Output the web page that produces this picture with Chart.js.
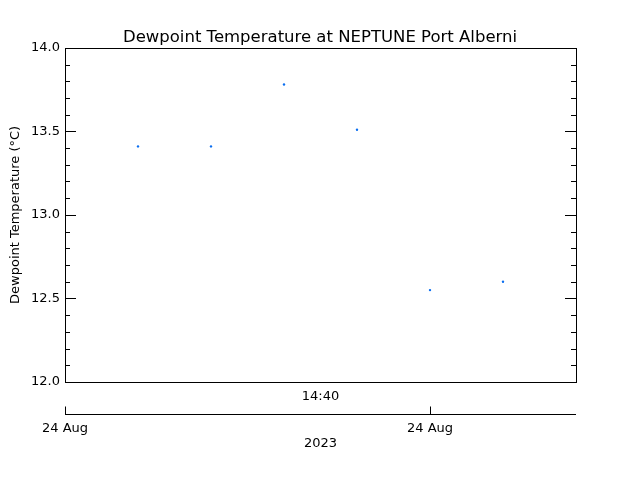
<!DOCTYPE html>
<html lang="en">
<head>
  <meta charset="UTF-8" />
  <title>Dewpoint Temperature at NEPTUNE Port Alberni</title>
  <script src="https://cdn.jsdelivr.net/npm/chart.js"></script>
  <style>
    html, body { margin: 0; padding: 0; background: #fff; }
  </style>
</head>
<body>
  <canvas id="dewChart" width="640" height="480"></canvas>

  <script>
    // sample positions along the time axis (axis runs 0..7)
    const sampleX = [1, 2, 3, 4, 5, 6];
    // dewpoint values (deg C)
    const dewpoint = [13.41, 13.41, 13.78, 13.51, 12.55, 12.60];

    // y axis range and labelled ticks
    const yMin = 12.0;
    const yMax = 14.0;
    const yMajorLabels = ['12.0', '12.5', '13.0', '13.5', '14.0'];

    // time axis
    const timeTickPos = [0, 5];
    const timeTickLabels = ['24 Aug', '24 Aug'];
    const timeMidPos = 3.5;
    const timeMidLabel = '14:40';
    const yearLabel = '2023';

    const FONT = '"DejaVu Sans", sans-serif';

    // frame, inward ticks and the separate time axis below the plot
    const framePlugin = {
      id: 'frame',
      afterDraw(chart) {
        const { ctx, chartArea, scales } = chart;
        const { left, right, top, bottom } = chartArea;
        const x = scales.x, y = scales.y;
        ctx.save();
        ctx.strokeStyle = '#000';
        ctx.lineWidth = 1;
        ctx.strokeRect(Math.round(left) + 0.5, Math.round(top) + 0.5,
                       Math.round(right - left), Math.round(bottom - top));

        // y ticks every 0.1, longer at 0.5
        ctx.beginPath();
        y.ticks.forEach(t => {
          const py = Math.round(y.getPixelForValue(t.value)) + 0.5;
          const major = Math.abs(t.value * 2 - Math.round(t.value * 2)) < 1e-6;
          const len = major ? 11 : 5;
          ctx.moveTo(left, py); ctx.lineTo(left + len, py);
          ctx.moveTo(right, py); ctx.lineTo(right - len, py);
        });
        ctx.stroke();

        // time axis
        const axisY = 414.5;
        ctx.beginPath();
        ctx.moveTo(x.getPixelForValue(x.min), axisY);
        ctx.lineTo(x.getPixelForValue(x.max), axisY);
        timeTickPos.forEach(v => {
          const px = Math.round(x.getPixelForValue(v)) + 0.5;
          ctx.moveTo(px, axisY); ctx.lineTo(px, axisY - 8);
        });
        ctx.stroke();

        ctx.fillStyle = '#000';
        ctx.font = '13px ' + FONT;
        ctx.textAlign = 'center';
        ctx.textBaseline = 'middle';
        timeTickPos.forEach((v, i) => {
          ctx.fillText(timeTickLabels[i], x.getPixelForValue(v), 429);
        });
        ctx.fillText(timeMidLabel, x.getPixelForValue(timeMidPos), 397);
        ctx.fillText(yearLabel, x.getPixelForValue(timeMidPos), 444);
        ctx.restore();
      }
    };

    new Chart(document.getElementById('dewChart'), {
      type: 'scatter',
      data: {
        datasets: [{
          label: 'Dewpoint',
          data: sampleX.map((v, i) => ({ x: v, y: dewpoint[i] })),
          backgroundColor: '#0a6ef0',
          borderWidth: 0,
          pointRadius: 1.2,
          pointHoverRadius: 1.2
        }]
      },
      options: {
        responsive: false,
        animation: false,
        layout: { padding: { left: 0, right: 0, top: 0, bottom: 98 } },
        plugins: {
          legend: { display: false },
          tooltip: { enabled: false },
          title: {
            display: true,
            text: 'Dewpoint Temperature at NEPTUNE Port Alberni',
            color: '#000',
            font: { family: FONT, size: 16.5, weight: 'normal' },
            padding: { top: 28, bottom: 0 }
          }
        },
        scales: {
          x: {
            type: 'linear',
            min: 0,
            max: 7,
            display: false
          },
          y: {
            min: yMin,
            max: yMax,
            afterFit(scale) { scale.width = 65; },
            border: { display: false },
            grid: { display: false, drawTicks: false },
            ticks: {
              stepSize: 0.1,
              autoSkip: false,
              padding: 5,
              color: '#000',
              font: { family: FONT, size: 13 },
              callback(value) {
                const k = Math.round((value - yMin) / 0.5 * 1000) / 1000;
                return Number.isInteger(k) ? yMajorLabels[k] : '';
              }
            },
            title: {
              display: true,
              text: 'Dewpoint Temperature (°C)',
              color: '#000',
              font: { family: FONT, size: 13 },
              padding: { top: 8, bottom: 2 }
            }
          },
          // empty right axis, only reserves the margin on the right
          yRight: {
            position: 'right',
            min: yMin,
            max: yMax,
            afterFit(scale) { scale.width = 64; },
            border: { display: false },
            grid: { display: false, drawTicks: false },
            ticks: { display: false }
          }
        }
      },
      plugins: [framePlugin]
    });
  </script>
</body>
</html>
